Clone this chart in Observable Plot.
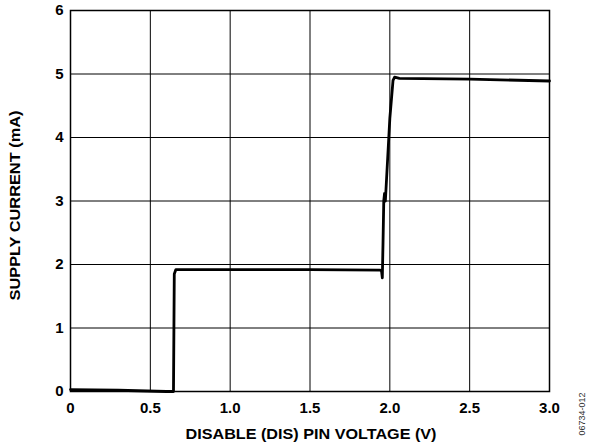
<!DOCTYPE html>
<html><head><meta charset="utf-8">
<script src="https://cdn.jsdelivr.net/npm/d3@7"></script>
<script src="https://cdn.jsdelivr.net/npm/@observablehq/plot@0.6"></script>
<style>
body{margin:0;background:#fff;}
svg{font-family:"Liberation Sans",Arial,sans-serif;}
</style>
</head><body><div id="chart"></div>
<script>
const voltage = [0, 0.3, 0.6, 0.645, 0.65, 0.66, 1.0, 1.5, 1.94, 1.948, 1.953, 1.957, 1.962, 1.967, 1.972, 2.0, 2.02, 2.03, 2.06, 2.5, 3.0];
const current = [0.03, 0.02, 0.0, 0.0, 1.85, 1.92, 1.92, 1.92, 1.91, 1.9, 1.79, 2.3, 3.0, 3.12, 3.0, 4.3, 4.9, 4.95, 4.93, 4.92, 4.89];
const xTicks = [0, 0.5, 1.0, 1.5, 2.0, 2.5, 3.0];
const xTickLabels = ["0", "0.5", "1.0", "1.5", "2.0", "2.5", "3.0"];
const yTicks = [0, 1, 2, 3, 4, 5, 6];
const yTickLabels = ["0", "1", "2", "3", "4", "5", "6"];
const xTitle = ["DISABLE (DIS) PIN VOLTAGE (V)"];
const yTitle = ["SUPPLY CURRENT (mA)"];
const figureId = ["06734-012"];

const data = voltage.map((v, i) => ({v, c: current[i]}));

const chart = Plot.plot({
  width: 594, height: 448,
  marginLeft: 70, marginRight: 45, marginTop: 10, marginBottom: 57,
  style: {fontFamily: '"Liberation Sans", Arial, sans-serif', background: "#fff", color: "#000"},
  x: {domain: [0, 3]},
  y: {domain: [0, 6]},
  marks: [
    Plot.ruleX(xTicks, {stroke: "#000", strokeWidth: 1}),
    Plot.ruleY(yTicks, {stroke: "#000", strokeWidth: 1}),
    Plot.frame({stroke: "#000", strokeWidth: 1.5}),
    Plot.axisX(xTicks, {tickSize: 0, tickPadding: 11, fontSize: 15, fontWeight: "bold", fill: "#000",
      tickFormat: d => xTickLabels[xTicks.indexOf(d)], label: null}),
    Plot.axisY(yTicks, {tickSize: 0, tickPadding: 7, fontSize: 15, fontWeight: "bold", fill: "#000",
      tickFormat: d => yTickLabels[yTicks.indexOf(d)], label: null}),
    Plot.text(xTitle, {x: () => 1.5063, y: () => -0.677, fontSize: 15.5, fontWeight: "bold", fill: "#000", clip: false, className: "xtitle"}),
    Plot.text(yTitle, {x: () => -0.3444, y: () => 2.929, rotate: -90, fontSize: 15.5, fontWeight: "bold", fill: "#000", clip: false, className: "ytitle"}),
    Plot.line(data, {x: "v", y: "c", stroke: "#000", strokeWidth: 2.8, curve: "linear", strokeLinejoin: "round"}),
    Plot.text(figureId, {x: () => 3.2066, y: () => -0.354, rotate: -90, fontSize: 9, fill: "#333", clip: false})
  ]
});
document.getElementById("chart").appendChild(chart);
d3.select(chart).selectAll(".xtitle text").attr("textLength", 251).attr("lengthAdjust", "spacingAndGlyphs");
d3.select(chart).selectAll(".ytitle text").attr("textLength", 190).attr("lengthAdjust", "spacingAndGlyphs");
</script>
</body></html>
